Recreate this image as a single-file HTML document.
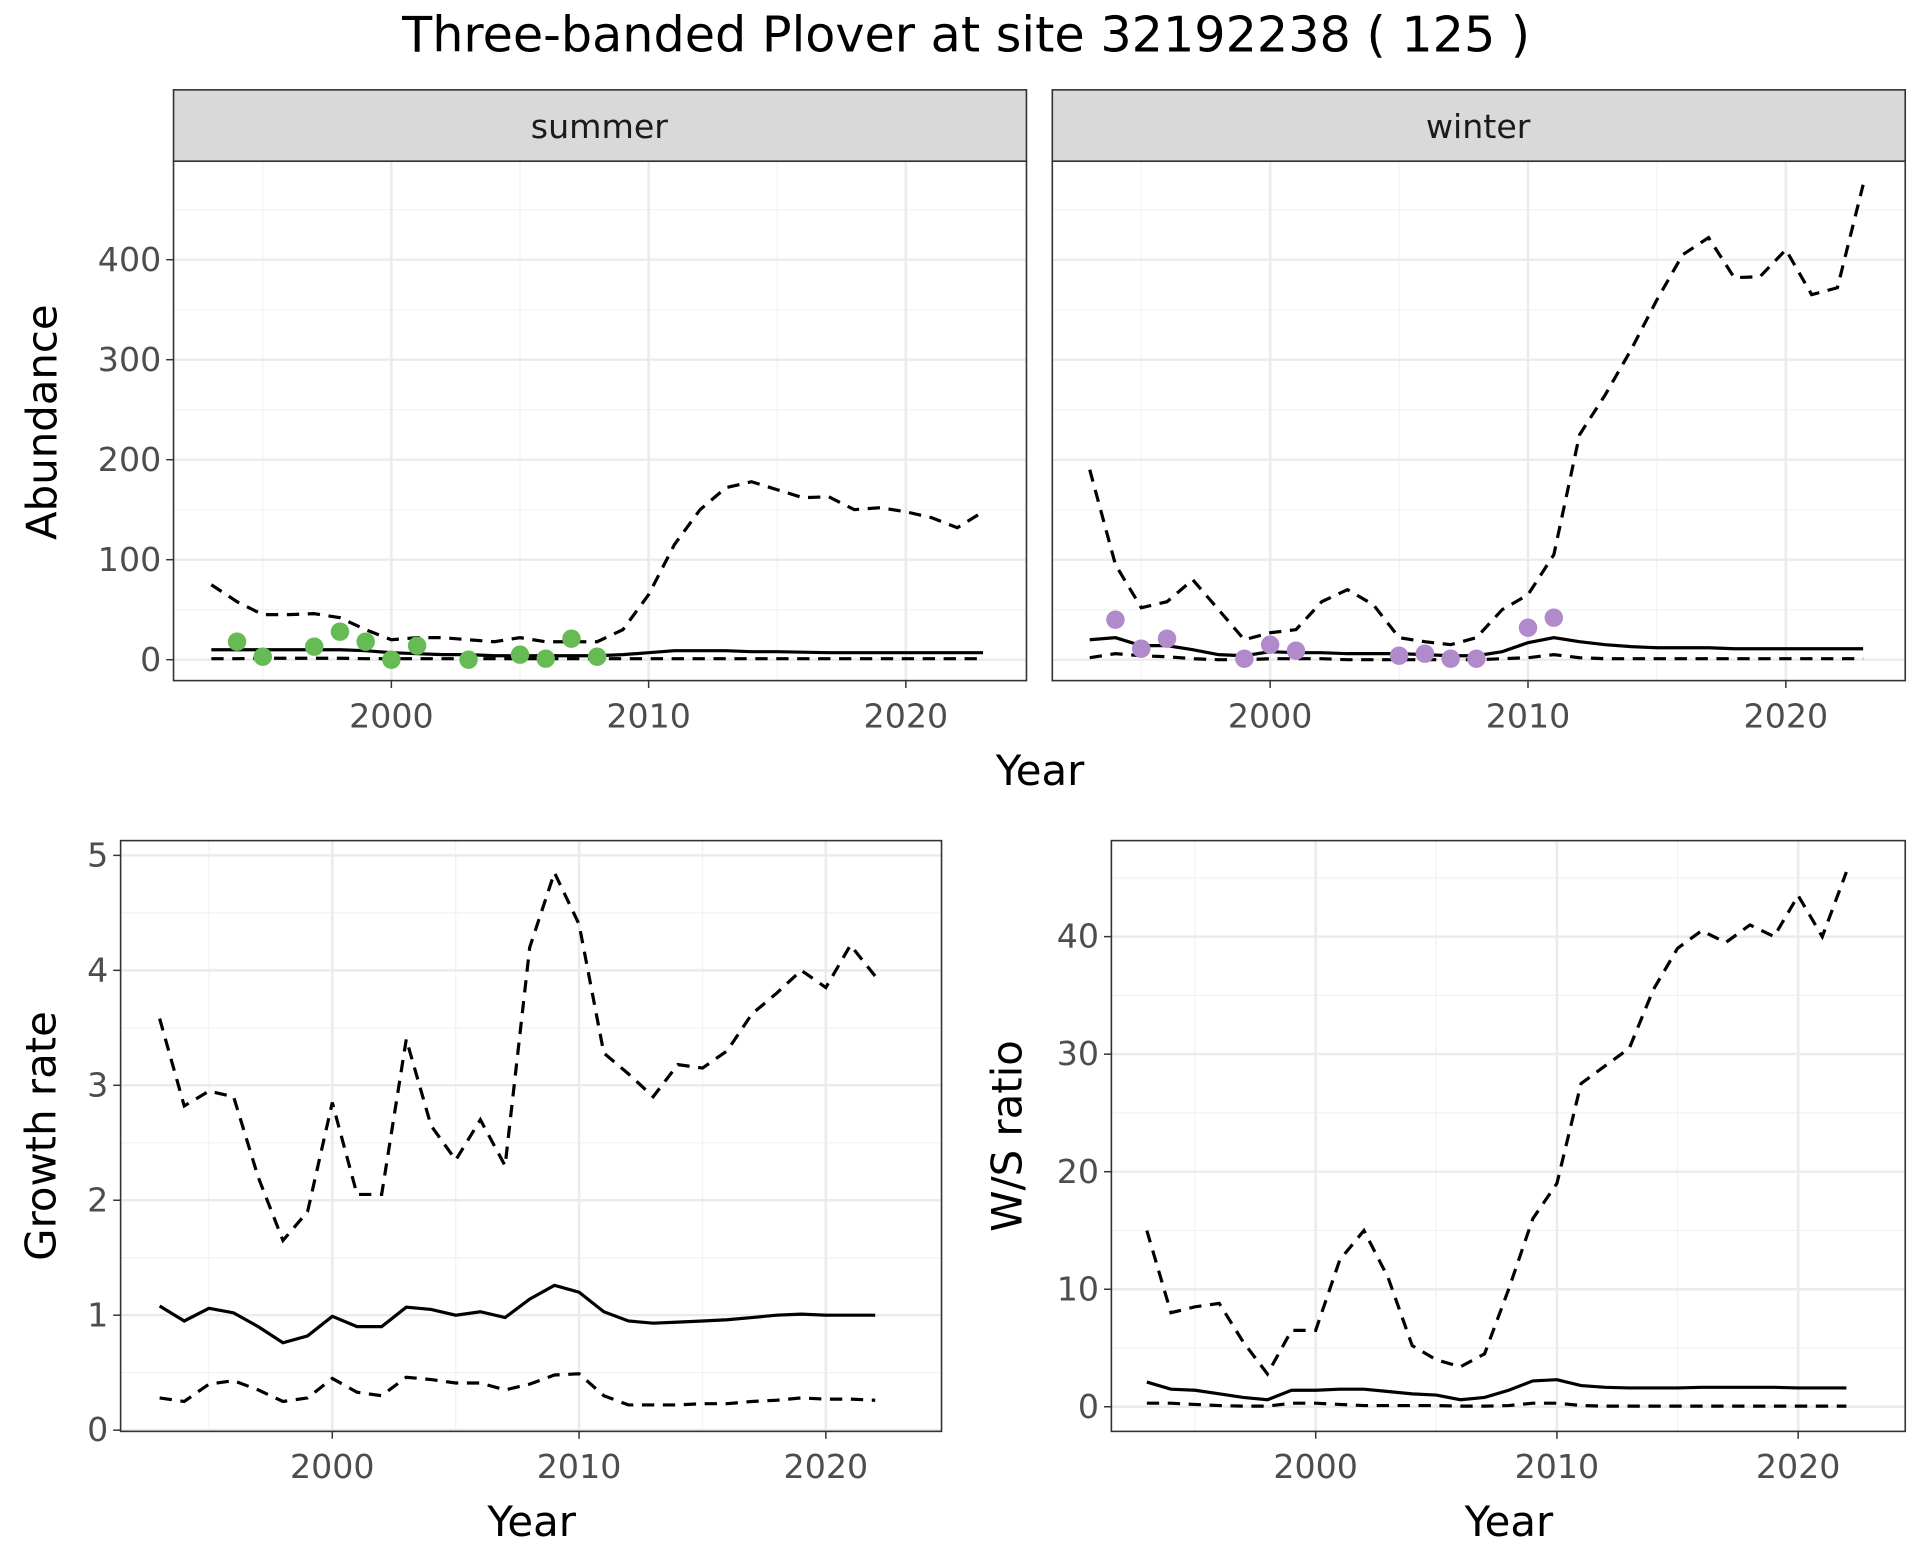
<!DOCTYPE html>
<html><head><meta charset="utf-8"><style>
html,body{margin:0;padding:0;background:#fff;}
svg{display:block;font-family:"DejaVu Sans","Liberation Sans",sans-serif;}
</style></head><body>
<svg id="s" width="1920" height="1560" viewBox="0 0 1560 1267.5" xmlns="http://www.w3.org/2000/svg"></svg>
<script>
const S=document.getElementById('s');let h='';
h+='<rect width="1560" height="1267.5" fill="#fff"/>';
h+='<text x="785" y="42" font-size="40" text-anchor="middle" fill="#000">Three-banded Plover at site 32192238 ( 125 )</text>';
function yrs(a,n){return Array.from({length:n},(_,i)=>a+i);}
function panel(o){
 const X=v=>o.x0+(v-o.xa)*o.xs, Y=v=>o.y0-(v*o.ys);
 h+=`<rect x="${o.l}" y="${o.t}" width="${o.r-o.l}" height="${o.b-o.t}" fill="#fff"/>`;
 for(const v of o.xmin){h+=`<line x1="${X(v)}" x2="${X(v)}" y1="${o.t}" y2="${o.b}" stroke="#f2f2f2" stroke-width="1"/>`;}
 for(const v of o.ymin){h+=`<line x1="${o.l}" x2="${o.r}" y1="${Y(v)}" y2="${Y(v)}" stroke="#f2f2f2" stroke-width="1"/>`;}
 for(const v of o.xmaj){h+=`<line x1="${X(v)}" x2="${X(v)}" y1="${o.t}" y2="${o.b}" stroke="#ebebeb" stroke-width="2"/>`;
  h+=`<line x1="${X(v)}" x2="${X(v)}" y1="${o.b}" y2="${o.b+6}" stroke="#333" stroke-width="1.2"/>`;
  h+=`<text x="${X(v)}" y="${o.b+38}" font-size="27" fill="#4d4d4d" text-anchor="middle">${v}</text>`;}
 for(const v of o.ymaj){h+=`<line x1="${o.l}" x2="${o.r}" y1="${Y(v)}" y2="${Y(v)}" stroke="#ebebeb" stroke-width="2"/>`;
  if(o.ylab){h+=`<line x1="${o.l-6}" x2="${o.l}" y1="${Y(v)}" y2="${Y(v)}" stroke="#333" stroke-width="1.2"/>`;
  h+=`<text x="${o.l-10}" y="${Y(v)+9}" font-size="27" fill="#4d4d4d" text-anchor="end">${v}</text>`;}}
 for(const [d,dash] of o.lines){const ys=yrs(o.ya,d.length);
  h+=`<polyline fill="none" stroke="#000" stroke-width="2.6" ${dash?'stroke-dasharray="10,7"':''} points="${d.map((v,i)=>X(ys[i]).toFixed(1)+','+Y(v).toFixed(1)).join(' ')}"/>`;}
 if(o.pts)for(const [x,v] of o.pts){h+=`<circle cx="${X(x)}" cy="${Y(v)}" r="7.5" fill="${o.pc}"/>`;}
 h+=`<rect x="${o.l}" y="${o.t}" width="${o.r-o.l}" height="${o.b-o.t}" fill="none" stroke="#333" stroke-width="1.3"/>`;
}
const sumU=[75,58,45,45,46,42,30,20,22,22,20,18,22,18,18,18,30,65,115,150,172,178,170,162,163,150,152,148,142,132,148];
const sumM=[10,10,10,10,10,10,9,7,6,5,5,4,4,4,4,4,5,7,9,9,9,8,8,7.5,7,7,7,7,7,7,7];
const sumL=[1,1,1.5,1.5,1.5,1.5,1,1,1,1,1,1,1,1,1,1,1,1,1,1,1,1,1,1,1,1,1,1,1,1,1];
const winU=[190,95,52,58,80,50,20,27,30,58,70,55,22,18,15,22,50,65,105,225,265,310,360,405,422,382,383,410,365,372,475];
const winM=[20,22,14,14,10,5,4,8,7,7,6,6,6,5,4,4,8,17,22,18,15,13,12,12,12,11,11,11,11,11,11];
const winL=[2,6,4,3,1,0,0,1,1,1,0,0,0,0,0,0,1,2,5,2,1,1,1,1,1,1,1,1,1,1,1];
h+='<rect x="141" y="73" width="693" height="58" fill="#d9d9d9" stroke="#333" stroke-width="1.3"/><text x="487" y="112" font-size="27" text-anchor="middle" fill="#1a1a1a">summer</text>';
h+='<rect x="855" y="73" width="693" height="58" fill="#d9d9d9" stroke="#333" stroke-width="1.3"/><text x="1201" y="112" font-size="27" text-anchor="middle" fill="#1a1a1a">winter</text>';
panel({l:141,r:834,t:131,b:553,x0:318,xa:2000,xs:20.9,y0:536,ys:0.8125,xmaj:[2000,2010,2020],xmin:[1995,2005,2015],ymaj:[0,100,200,300,400],ymin:[50,150,250,350,450],ylab:true,ya:1993,
 lines:[[sumU,1],[sumM,0],[sumL,1]],pc:'#66bb55',pts:[[1994,18],[1995,3],[1997,13],[1998,28],[1999,18],[2000,0],[2001,14],[2003,0],[2005,5],[2006,1],[2007,21],[2008,3]]});
panel({l:855,r:1548,t:131,b:553,x0:1032,xa:2000,xs:20.95,y0:536,ys:0.8125,xmaj:[2000,2010,2020],xmin:[1995,2005,2015],ymaj:[0,100,200,300,400],ymin:[50,150,250,350,450],ylab:false,ya:1993,
 lines:[[winU,1],[winM,0],[winL,1]],pc:'#b08acb',pts:[[1994,40],[1995,11],[1996,21],[1999,1],[2000,15],[2001,9],[2005,4],[2006,6],[2007,1],[2008,1],[2010,32],[2011,42]]});
h+='<text x="845" y="638" font-size="34" text-anchor="middle">Year</text>';
h+='<text transform="translate(46,343) rotate(-90)" font-size="34" text-anchor="middle">Abundance</text>';
const gU=[3.58,2.82,2.95,2.9,2.2,1.65,1.9,2.85,2.05,2.05,3.4,2.65,2.35,2.7,2.3,4.2,4.85,4.4,3.28,3.1,2.9,3.18,3.15,3.3,3.62,3.8,4.0,3.85,4.22,3.95];
const gM=[1.08,0.95,1.06,1.02,0.9,0.76,0.82,0.99,0.9,0.9,1.07,1.05,1.0,1.03,0.98,1.14,1.26,1.2,1.03,0.95,0.93,0.94,0.95,0.96,0.98,1.0,1.01,1.0,1.0,1.0];
const gL=[0.28,0.25,0.4,0.43,0.35,0.25,0.28,0.45,0.33,0.3,0.46,0.44,0.41,0.41,0.35,0.4,0.48,0.49,0.3,0.22,0.22,0.22,0.23,0.23,0.25,0.26,0.28,0.27,0.27,0.26];
panel({l:98,r:765,t:683,b:1163,x0:270,xa:2000,xs:20.05,y0:1162,ys:93.4,xmaj:[2000,2010,2020],xmin:[1995,2005,2015],ymaj:[0,1,2,3,4,5],ymin:[0.5,1.5,2.5,3.5,4.5],ylab:true,ya:1993,lines:[[gU,1],[gM,0],[gL,1]]});
h+='<text x="432" y="1248" font-size="34" text-anchor="middle">Year</text>';
h+='<text transform="translate(45,923) rotate(-90)" font-size="34" text-anchor="middle">Growth rate</text>';
const wU=[15,8,8.5,8.8,5.5,2.8,6.5,6.5,12.5,15,11,5.2,4,3.4,4.5,10,16,19,27.5,29,30.5,35.5,39,40.5,39.5,41,40,43.5,40,45.5];
const wM=[2.1,1.5,1.4,1.1,0.8,0.6,1.4,1.4,1.5,1.5,1.3,1.1,1.0,0.6,0.8,1.4,2.2,2.3,1.8,1.65,1.6,1.6,1.6,1.65,1.65,1.65,1.65,1.6,1.6,1.6];
const wL=[0.3,0.3,0.2,0.1,0.05,0.05,0.3,0.3,0.2,0.1,0.1,0.1,0.1,0.05,0.05,0.1,0.3,0.3,0.1,0.05,0.05,0.05,0.05,0.05,0.05,0.05,0.05,0.05,0.05,0.05];
panel({l:903,r:1548,t:683,b:1163,x0:1069,xa:2000,xs:19.6,y0:1143,ys:9.55,xmaj:[2000,2010,2020],xmin:[1995,2005,2015],ymaj:[0,10,20,30,40],ymin:[5,15,25,35,45],ylab:true,ya:1993,lines:[[wU,1],[wM,0],[wL,1]]});
h+='<text x="1226" y="1248" font-size="34" text-anchor="middle">Year</text>';
h+='<text transform="translate(830,923) rotate(-90)" font-size="34" text-anchor="middle">W/S ratio</text>';
S.innerHTML=h;
</script>
</body></html>
